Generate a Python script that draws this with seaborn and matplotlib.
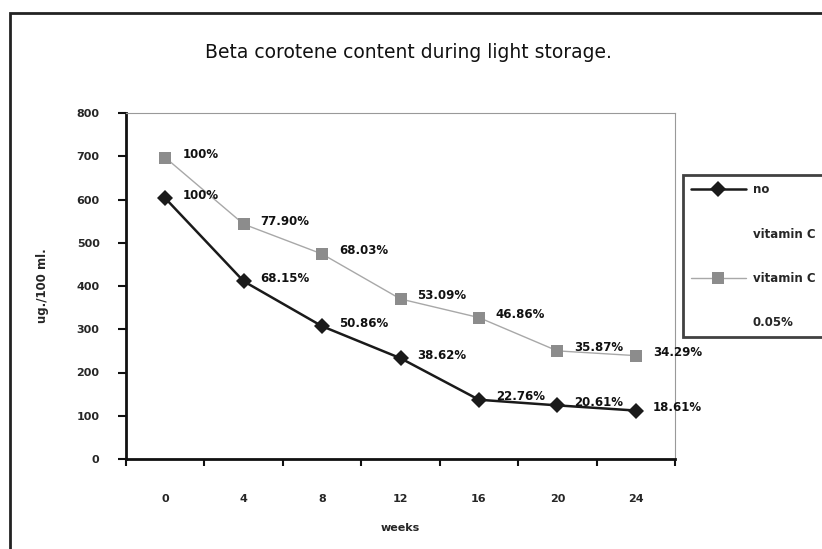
import numpy as np
import pandas as pd
import matplotlib
matplotlib.use("Agg")
import matplotlib.pyplot as plt
import seaborn as sns
from matplotlib.lines import Line2D
from matplotlib.patches import Rectangle

# ---- data ----
weeks = ["0", "4", "8", "12", "16", "20", "24"]
no_vitc = [603, 411, 307, 233, 137, 124, 112]
vitc_005 = [697, 543, 474, 370, 327, 250, 239]
no_vitc_pct = ["100%", "68.15%", "50.86%", "38.62%", "22.76%", "20.61%", "18.61%"]
vitc_pct = ["100%", "77.90%", "68.03%", "53.09%", "46.86%", "35.87%", "34.29%"]
series_names = ["no vitamin C", "vitamin C 0.05%"]
title = "Beta corotene content during light storage."
y_ticks = [0, 100, 200, 300, 400, 500, 600, 700, 800]

pos = np.arange(len(weeks))
df = pd.DataFrame({
    "pos": np.concatenate([pos, pos]),
    "value": no_vitc + vitc_005,
    "series": [series_names[0]] * len(weeks) + [series_names[1]] * len(weeks),
})

sns.set_style("white")
plt.rcParams["font.family"] = ["DejaVu Sans"]

W, H = 822, 549
fig = plt.figure(figsize=(W / 100, H / 100), dpi=100)
ax = fig.add_axes([126 / W, 1 - 459 / H, (675 - 126) / W, (459 - 113) / H])

# outer frame
fig.patches.append(Rectangle((10 / W, -0.1), 1.2, 1 - 13 / H + 0.1,
                             transform=fig.transFigure, fill=False,
                             edgecolor="#222222", linewidth=2.0, zorder=0))

palette = {series_names[0]: "#1a1a1a", series_names[1]: "#9a9a9a"}
sns.lineplot(data=df, x="pos", y="value", hue="series", style="series",
             markers={series_names[0]: "D", series_names[1]: "s"},
             dashes=False, palette=palette, ax=ax, legend=False,
             markeredgewidth=0)
lines = ax.get_lines()
lines[0].set_linewidth(1.8)
lines[0].set_markersize(8.5)
lines[0].set_markerfacecolor("#1a1a1a")
lines[1].set_linewidth(1.0)
lines[1].set_color("#a8a8a8")
lines[1].set_markersize(8)
lines[1].set_markerfacecolor("#8c8c8c")

lab_font = dict(fontsize=8.5, fontweight="bold", color="#111111")
for i in range(len(weeks)):
    ax.annotate(no_vitc_pct[i], (pos[i], no_vitc[i]), xytext=(17, 3),
                textcoords="offset pixels", ha="left", va="center", **lab_font)
    ax.annotate(vitc_pct[i], (pos[i], vitc_005[i]), xytext=(17, 3),
                textcoords="offset pixels", ha="left", va="center", **lab_font)

ax.set_xlim(-0.5, len(weeks) - 0.5)
ax.set_ylim(0, 800)
ax.set_yticks(y_ticks)
ax.set_yticklabels([str(v) for v in y_ticks], fontsize=8, fontweight="bold")
ax.set_xticks(np.arange(-0.5, len(weeks), 1.0))
ax.set_xticklabels([])
ax.set_xticks(pos, minor=True)
ax.set_xticklabels(weeks, minor=True, fontsize=8, fontweight="bold")
ax.tick_params(axis="x", which="major", length=5, width=1.5, direction="out",
               bottom=True, color="#111111")
ax.tick_params(axis="x", which="minor", length=0, pad=25, bottom=True)
ax.tick_params(axis="y", which="major", length=6, width=1.5, direction="out",
               left=True, pad=13, color="#111111")

for s in ["left", "bottom"]:
    ax.spines[s].set_color("#111111")
    ax.spines[s].set_linewidth(2.0)
for s in ["top", "right"]:
    ax.spines[s].set_color("#999999")
    ax.spines[s].set_linewidth(0.8)

ax.set_xlabel("weeks", fontsize=8, fontweight="bold", labelpad=14)
ax.set_ylabel("ug./100 ml.", fontsize=8.5, fontweight="bold", labelpad=20)

fig.text(408 / W, 1 - 52 / H, title, ha="center", va="center",
         fontsize=13.5, family="DejaVu Sans", color="#111111")

# legend
h_no = Line2D([], [], color="#1a1a1a", lw=1.8, marker="D", markersize=8.5,
              markeredgewidth=0)
h_vc = Line2D([], [], color="#a8a8a8", lw=1.0, marker="s", markersize=8,
              markerfacecolor="#8c8c8c", markeredgewidth=0)
h_empty = Line2D([], [], color="none")
leg = fig.legend([h_no, h_empty, h_vc, h_empty],
                 ["no", "vitamin C", "vitamin C", "0.05%"],
                 loc="upper left", bbox_to_anchor=(683 / W, 1 - 175 / H),
                 frameon=True, fancybox=False, labelspacing=2.65,
                 handlelength=4.6, handletextpad=0.6, borderpad=0.7,
                 borderaxespad=0.0,
                 prop=dict(size=8.5, weight="bold"))
leg.get_frame().set_edgecolor("#111111")
leg.get_frame().set_linewidth(2.0)

fig.savefig("out.png", dpi=100)
